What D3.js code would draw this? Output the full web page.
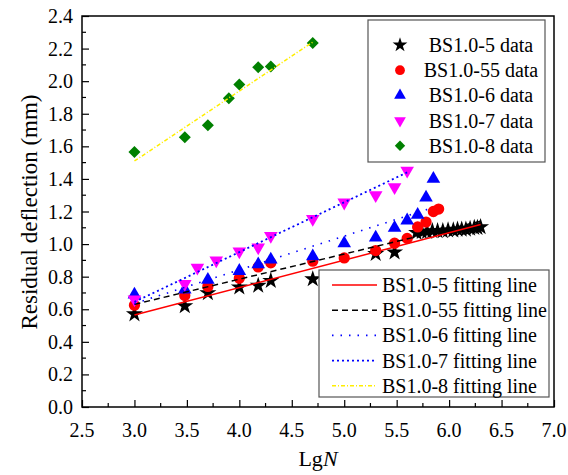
<!DOCTYPE html>
<html><head><meta charset="utf-8">
<script src="https://cdn.jsdelivr.net/npm/d3@7"></script>
<style>html,body{margin:0;padding:0;background:#fff;}</style>
</head><body>
<svg id="chart" width="568" height="475"></svg>
<script>
const xTicks = [2.5,3.0,3.5,4.0,4.5,5.0,5.5,6.0,6.5,7.0];
const yTicks = [0.0,0.2,0.4,0.6,0.8,1.0,1.2,1.4,1.6,1.8,2.0,2.2,2.4];

const s5X = [3.0,3.48,3.7,4.0,4.18,4.3,4.7,5.3,5.48,5.69,5.74,5.79,5.84,5.89,5.94,5.99,6.04,6.08,6.12,6.16,6.2,6.24,6.27,6.3];
const s5Y = [0.57,0.62,0.70,0.735,0.745,0.775,0.785,0.94,0.95,1.07,1.075,1.075,1.08,1.08,1.08,1.085,1.085,1.09,1.09,1.09,1.095,1.1,1.1,1.105];
const s55X = [3.0,3.48,3.7,4.0,4.18,4.3,4.7,5.0,5.3,5.48,5.6,5.7,5.78,5.85,5.9];
const s55Y = [0.625,0.685,0.74,0.79,0.86,0.885,0.895,0.915,0.96,1.005,1.035,1.105,1.135,1.2,1.215];
const s6X = [3.0,3.48,3.7,4.0,4.18,4.3,4.7,5.0,5.3,5.48,5.6,5.7,5.78,5.85];
const s6Y = [0.69,0.72,0.78,0.835,0.875,0.905,0.925,1.005,1.04,1.10,1.145,1.18,1.285,1.40];
const s7X = [3.0,3.48,3.6,3.78,4.0,4.18,4.3,4.7,5.0,5.3,5.48,5.6];
const s7Y = [0.66,0.755,0.855,0.9,0.955,0.98,1.05,1.155,1.255,1.3,1.35,1.45];
const s8X = [3.0,3.48,3.7,3.9,4.0,4.18,4.3,4.7];
const s8Y = [1.565,1.655,1.73,1.895,1.98,2.085,2.09,2.235];

const fit5X = [3.0,6.3],  fit5Y = [0.565,1.12];
const fit55X = [3.0,6.3], fit55Y = [0.63,1.14];
const fit6X = [3.0,5.85], fit6Y = [0.635,1.225];
const fit7X = [3.0,5.6],  fit7Y = [0.645,1.44];
const fit8X = [3.0,4.7],  fit8Y = [1.51,2.24];

const dataNames = ["BS1.0-5 data","BS1.0-55 data","BS1.0-6 data","BS1.0-7 data","BS1.0-8 data"];
const fitNames = ["BS1.0-5 fitting line","BS1.0-55 fitting line","BS1.0-6 fitting line","BS1.0-7 fitting line","BS1.0-8 fitting line"];

const FONT = "'Liberation Serif'";
const svg = d3.select("#chart");
const L = 82, R = 554, T = 16, B = 407;
const x = d3.scaleLinear().domain([2.5,7.0]).range([L,R]);
const y = d3.scaleLinear().domain([0,2.4]).range([B,T]);

const markerDefs = [
  {type:d3.symbolStar, size:90, color:"#000", rot:0},
  {type:d3.symbolCircle, size:100, color:"#ff0000", rot:0},
  {type:d3.symbolTriangle, size:80, color:"#0000ff", rot:0},
  {type:d3.symbolTriangle, size:80, color:"#ff00ff", rot:180},
  {type:d3.symbolSquare, size:72, color:"#008000", rot:45}
];
const series = [[s5X,s5Y],[s55X,s55Y],[s6X,s6Y],[s7X,s7Y],[s8X,s8Y]];
const fits = [
  {xs:fit5X, ys:fit5Y, color:"#ff0000", dash:null, w:1.5},
  {xs:fit55X, ys:fit55Y, color:"#000", dash:"6,4", w:1.5},
  {xs:fit6X, ys:fit6Y, color:"#0000ff", dash:"1.5,7", w:1.6},
  {xs:fit7X, ys:fit7Y, color:"#0000ff", dash:"2,3", w:1.8},
  {xs:fit8X, ys:fit8Y, color:"#ffee00", dash:"4,2,1,2", w:1.5}
];

series.forEach((s,i)=>{
  const m = markerDefs[i];
  const sym = d3.symbol().type(m.type).size(m.size);
  svg.append("g").selectAll("path").data(s[0].map((v,j)=>[v,s[1][j]])).join("path")
    .attr("d", sym)
    .attr("transform", d=>`translate(${x(d[0])},${y(d[1])}) rotate(${m.rot})`)
    .attr("fill", m.color);
});

const line = d3.line().x(d=>x(d[0])).y(d=>y(d[1]));
fits.forEach(f=>{
  svg.append("path").datum(f.xs.map((v,j)=>[v,f.ys[j]]))
    .attr("d", line).attr("fill","none").attr("stroke", f.color)
    .attr("stroke-width", f.w).attr("stroke-dasharray", f.dash);
});

function stext(parent, px, py, anchor, str){
  return parent.append("text").attr("x",px).attr("y",py)
    .attr("text-anchor",anchor)
    .style("font-family",FONT).style("font-size","20px").attr("fill","#000")
    .text(str);
}

const xAxis = d3.axisBottom(x).tickValues(xTicks).tickFormat("").tickSizeInner(-7).tickSizeOuter(0);
const gx = svg.append("g").attr("transform",`translate(0,${B})`).call(xAxis);
const xMinor = d3.range(2.75,7.0,0.5);
gx.selectAll(".minor").data(xMinor).join("line").attr("class","minor")
  .attr("x1",d=>x(d)).attr("x2",d=>x(d)).attr("y1",0).attr("y2",-4).attr("stroke","#000").attr("stroke-width",1.2);
const yAxis = d3.axisLeft(y).tickValues(yTicks).tickFormat("").tickSizeInner(-7).tickSizeOuter(0);
const gy = svg.append("g").attr("transform",`translate(${L},0)`).call(yAxis);
const yMinor = d3.range(0.1,2.4,0.2);
gy.selectAll(".minor").data(yMinor).join("line").attr("class","minor")
  .attr("y1",d=>y(d)).attr("y2",d=>y(d)).attr("x1",0).attr("x2",4).attr("stroke","#000").attr("stroke-width",1.2);
[gx,gy].forEach(g=>{
  g.select(".domain").remove();
  g.selectAll(".tick line").attr("stroke","#000").attr("stroke-width",1.2);
  g.selectAll(".tick text").remove();
});
const fmt = d3.format(".1f");
xTicks.forEach(v=>stext(svg, x(v), B+30, "middle", fmt(v)));
yTicks.forEach(v=>stext(svg, L-9, y(v)+7, "end", fmt(v)));

svg.append("rect").attr("x",L).attr("y",T).attr("width",R-L).attr("height",B-T)
  .attr("fill","none").attr("stroke","#000").attr("stroke-width",1.5);

svg.append("text").attr("x",(L+R)/2).attr("y",466).attr("text-anchor","middle")
  .style("font-family",FONT).style("font-size","22px").html('Lg<tspan font-style="italic">N</tspan>');
svg.append("text").attr("transform","translate(37,212) rotate(-90)").attr("text-anchor","middle")
  .style("font-family",FONT).style("font-size","23px").text("Residual deflection (mm)");

const lg1 = svg.append("g");
lg1.append("rect").attr("x",368).attr("y",20).attr("width",177).attr("height",142)
  .attr("fill","#fff").attr("stroke","#555").attr("stroke-width",1.2);
dataNames.forEach((n,i)=>{
  const yy = 45 + i*25.2;
  const m = markerDefs[i];
  lg1.append("path").attr("d", d3.symbol().type(m.type).size(m.size*0.75)())
    .attr("transform",`translate(400,${yy}) rotate(${m.rot})`).attr("fill",m.color);
  stext(lg1, 481, yy+7, "middle", n);
});

const lg2 = svg.append("g");
lg2.append("rect").attr("x",319).attr("y",270).attr("width",230).attr("height",127)
  .attr("fill","#fff").attr("stroke","#555").attr("stroke-width",1.2);
fitNames.forEach((n,i)=>{
  const yy = 285 + i*25.2;
  const f = fits[i];
  lg2.append("line").attr("x1",332).attr("x2",377).attr("y1",yy).attr("y2",yy)
    .attr("stroke",f.color).attr("stroke-width",f.w).attr("stroke-dasharray",f.dash);
  stext(lg2, 382, yy+7, "start", n);
});
</script>
</body></html>
